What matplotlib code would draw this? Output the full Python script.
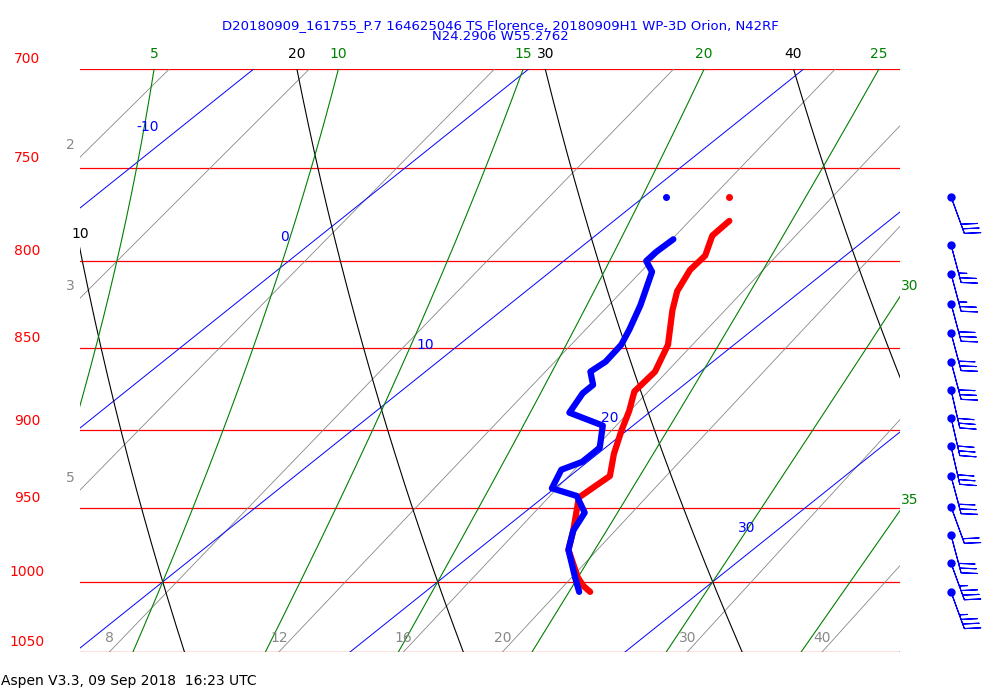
import numpy as np
import matplotlib
matplotlib.use("Agg")
import matplotlib.pyplot as plt

# sounding (pressure hPa, temperature C)
temp_p = [1007, 1003, 997, 978, 965, 943, 929, 915, 900, 888, 876, 864, 848, 828, 817, 805, 797, 786, 778]
temp_t = [26.0, 25.5, 24.9, 23.3, 22.6, 21.3, 21.45, 20.6, 19.8, 19.2, 18.5, 18.35, 17.6, 16.2, 15.5, 15.0, 14.9, 14.25, 14.2]
dew_p = [1007, 997, 978, 965, 953, 942, 937, 925, 920, 911, 897, 889, 877, 872, 864, 858, 848, 839, 825, 806, 800, 795, 788]
dew_t = [25.6, 24.8, 23.3, 22.6, 22.2, 21.15, 19.9, 19.4, 19.8, 19.8, 18.9, 17.1, 16.7, 16.7, 16.0, 16.1, 15.9, 15.5, 14.8, 13.7, 13.0, 12.95, 13.0]
top_temp = (765, 13.1)
top_dew = (765, 10.8)

wind_p = [765, 791, 807, 824, 841, 858, 875, 892, 910, 929, 949, 968, 987, 1007]
wind_spd = [30, 25, 25, 30, 30, 30, 30, 30, 30, 30, 20, 30, 35, 35]
wind_dir = [160, 165, 165, 165, 165, 165, 167, 167, 167, 165, 160, 165, 160, 160]

isotherms = [-20, -10, 0, 10, 20, 30, 40]
dry_adiabats = [10, 20, 30, 40, 50]
moist_adiabats = [5, 10, 15, 20, 25, 30, 35]
mix_ratios = [2, 3, 5, 8, 12, 16, 20, 30, 40]
pressures = [700, 750, 800, 850, 900, 950, 1000, 1050]

P_BOT, P_TOP = 1050.0, 700.0
SKEW = 65.35
XMIN, XMAX = 10.18, 40.0
GREEN = "#008000"


def skx(t, p):
    return np.asarray(t) + SKEW * np.log(P_BOT / np.asarray(p, dtype=float))


def es(t):
    return 6.112 * np.exp(17.67 * t / (t + 243.5))


def td_from_w(w, p):
    e = w * p / (622.0 + w)
    a = np.log(e / 6.112)
    return 243.5 * a / (17.67 - a)


def moist_line(tw, p):
    # integrate pseudo-adiabat from 1000 hPa
    Rd, cp, L, eps = 287.0, 1004.0, 2.5e6, 0.622
    out = {}
    for direction in (-1, 1):
        T = tw + 273.15
        pc = 1000.0
        step = 1.0 * direction
        while 650 <= pc <= 1100:
            out[round(pc)] = T - 273.15
            rs = eps * es(T - 273.15) / (pc - es(T - 273.15))
            dTdp = (Rd * T + L * rs) / (pc * (cp + L * L * rs * eps / (Rd * T * T)))
            T += dTdp * step
            pc += step
    keys = sorted(out)
    return np.interp(p, keys, [out[k] for k in keys])


def edge_cross(xs, ps, edge):
    d = xs - edge
    idx = np.where(np.diff(np.sign(d)) != 0)[0]
    if not len(idx):
        return None
    i = idx[0]
    f = d[i] / (d[i] - d[i + 1])
    return ps[i] + f * (ps[i + 1] - ps[i])


fig = plt.figure(figsize=(10, 7), dpi=100)
ax = fig.add_axes([0.08, 48 / 700, 0.82, 583 / 700])
ax.set_yscale("log")
ax.set_ylim(P_BOT, P_TOP)
ax.set_xlim(XMIN, XMAX)
ax.axis("off")

pp = np.linspace(P_TOP, P_BOT, 400)


def edge_label(xs, ps, text, color):
    # place label where the line leaves the plot
    if XMIN <= xs[0] <= XMAX:
        ax.annotate(text, (xs[0], P_TOP), xytext=(0, 6), textcoords="offset points",
                    ha="center", va="bottom", color=color, fontsize=10, annotation_clip=False)
        return
    pe = edge_cross(xs, ps, XMIN)
    if pe is not None:
        ax.annotate(text, (XMIN, pe), xytext=(0, 11), textcoords="offset points",
                    ha="center", va="center", color=color, fontsize=10, annotation_clip=False)
        return
    pe = edge_cross(xs, ps, XMAX)
    if pe is not None:
        ax.annotate(text, (XMAX, pe), xytext=(1, 8), textcoords="offset points",
                    ha="left", va="center", color=color, fontsize=10, annotation_clip=False)


for p in pressures:
    ax.axhline(p, color="red", lw=0.9)
    ax.annotate(str(p), (0, p), xycoords=("axes fraction", "data"), xytext=(-38, 7),
                textcoords="offset points", ha="center", va="center", color="red",
                fontsize=10, annotation_clip=False)

for w in mix_ratios:
    xs = skx(td_from_w(w, pp), pp)
    ax.plot(xs, pp, color="#888888", lw=0.6)
    if XMIN <= xs[-1] <= XMAX:
        ax.annotate(str(w), (xs[-1], P_BOT), xytext=(0, 5), textcoords="offset points",
                    ha="center", va="bottom", color="#888888", fontsize=10)
    else:
        pe = edge_cross(xs, pp, XMIN)
        if pe is not None:
            ax.annotate(str(w), (XMIN, pe), xytext=(-7, 9), textcoords="offset points",
                        ha="center", va="center", color="#888888", fontsize=10,
                        annotation_clip=False)

for t in isotherms:
    ax.plot(skx(np.full_like(pp, t), pp), pp, color="blue", lw=0.7)

iso_lab_p = {-10: 729, 0: 787, 10: 848, 20: 892, 30: 963}
for t, p in iso_lab_p.items():
    ax.annotate(str(t), (skx(t, p), p), xytext=(-24, 0), textcoords="offset points",
                ha="center", va="center", color="blue", fontsize=10)

for th in dry_adiabats:
    ts = (th + 273.15) * (pp / 1000.0) ** 0.286 - 273.15
    xs = skx(ts, pp)
    ax.plot(xs, pp, color="black", lw=0.8)
    edge_label(xs, pp, str(th), "black")

for tw in moist_adiabats:
    xs = skx(moist_line(tw, pp), pp)
    ax.plot(xs, pp, color=GREEN, lw=0.8)
    edge_label(xs, pp, str(tw), GREEN)

ax.plot(skx(temp_t, temp_p), temp_p, color="red", lw=4.5, solid_capstyle="round",
        solid_joinstyle="round")
ax.plot(skx(dew_t, dew_p), dew_p, color="blue", lw=4.5, solid_capstyle="round",
        solid_joinstyle="round")
ax.plot(skx(top_temp[1], top_temp[0]), top_temp[0], "o", color="red", ms=4)
ax.plot(skx(top_dew[1], top_dew[0]), top_dew[0], "o", color="blue", ms=4)

# wind barbs
bx = fig.add_axes([0.911, 48 / 700, 0.08, 583 / 700])
bx.set_yscale("log")
bx.set_ylim(P_BOT, P_TOP)
bx.set_xlim(-1, 1)
bx.axis("off")
rad = np.deg2rad(wind_dir)
u = -np.array(wind_spd) * np.sin(rad)
v = -np.array(wind_spd) * np.cos(rad)
x0 = np.zeros(len(wind_p))
bx.barbs(x0, wind_p, u, v, color="blue", length=7.5, linewidth=0.8, clip_on=False,
         flip_barb=True)
bx.plot(x0, wind_p, "o", color="blue", ms=5, clip_on=False)

fig.text(0.5, 0.958, "D20180909_161755_P.7 164625046 TS Florence, 20180909H1 WP-3D Orion, N42RF",
         ha="center", color="blue", fontsize=9.5)
fig.text(0.5, 0.943, "N24.2906 W55.2762", ha="center", color="blue", fontsize=9.5)
fig.text(0.001, 0.022, "Aspen V3.3, 09 Sep 2018  16:23 UTC", ha="left", color="black", fontsize=10)

fig.savefig("out.png", dpi=100)
